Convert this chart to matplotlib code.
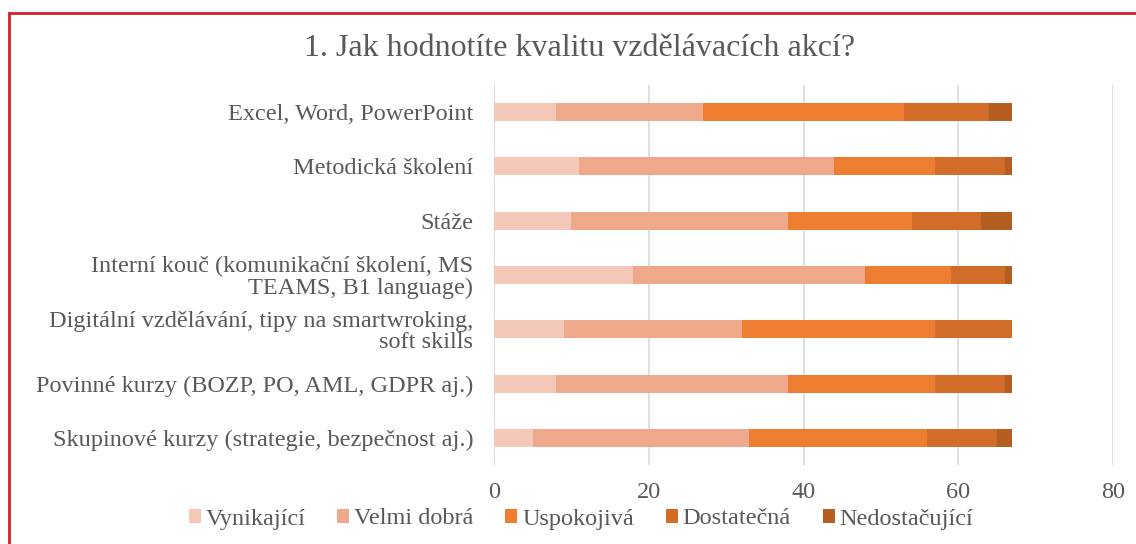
import matplotlib
matplotlib.use("Agg")
import matplotlib.pyplot as plt
from matplotlib.patches import Patch, Rectangle
import numpy as np

categories = [
    "Excel, Word, PowerPoint",
    "Metodická školení",
    "Stáže",
    "Interní kouč (komunikační školení, MS\nTEAMS, B1 language)",
    "Digitální vzdělávání, tipy na smartwroking,\nsoft skills",
    "Povinné kurzy (BOZP, PO, AML, GDPR aj.)",
    "Skupinové kurzy (strategie, bezpečnost aj.)",
]
series_names = ["Vynikající", "Velmi dobrá", "Uspokojivá", "Dostatečná", "Nedostačující"]
vynikajici = [8, 11, 10, 18, 9, 8, 5]
velmi_dobra = [19, 33, 28, 30, 23, 30, 28]
uspokojiva = [26, 13, 16, 11, 25, 19, 23]
dostatecna = [11, 9, 9, 7, 10, 9, 9]
nedostacujici = [3, 1, 4, 1, 0, 1, 2]
xticks = [0, 20, 40, 60, 80]

colors = ["#F4C8B9", "#F0A88B", "#ED7D31", "#D26D29", "#B45E22"]
series = [vynikajici, velmi_dobra, uspokojiva, dostatecna, nedostacujici]

plt.rcParams['font.family'] = ['Liberation Serif', 'DejaVu Serif']
text_color = "#595959"
fs = 17.5

fig = plt.figure(figsize=(11.36, 5.44), dpi=100)
ax = fig.add_axes([494/1136, 1-465/544, 619/1136, 380/544])

y = np.arange(len(categories))
left = np.zeros(len(categories))
handles = []
for name, vals, c in zip(series_names, series, colors):
    ax.barh(y, vals, left=left, height=0.33, color=c, label=name, zorder=3)
    left += np.array(vals)
    handles.append(Patch(facecolor=c, edgecolor='none', label=name))

ax.set_ylim(len(categories) - 0.5, -0.5)
ax.set_xlim(0, 80)
ax.set_xticks(xticks)
ax.set_xticklabels([str(t) for t in xticks])
ax.set_yticks(y)
ax.set_yticklabels(categories, linespacing=1.0)
ax.tick_params(axis='x', length=0, pad=12, labelsize=fs, colors=text_color)
ax.tick_params(axis='y', length=0, pad=15, labelsize=fs, colors=text_color)
for lbl in ax.get_yticklabels():
    lbl.set_horizontalalignment('right')
ax.grid(axis='x', color='#D9D9D9', linewidth=1.2, zorder=0)
for s in ax.spines.values():
    s.set_visible(False)
ax.axvline(0, color='#D9D9D9', linewidth=1.2, zorder=1)

fig.text(580/1136, 1-48/544, "1. Jak hodnotíte kvalitu vzdělávacích akcí?",
         ha='center', va='center', fontsize=23, color=text_color)

fig.legend(handles=handles, loc='center', bbox_to_anchor=(581/1136, 1-519/544),
           ncol=5, frameon=False, fontsize=fs, handlelength=0.5, handleheight=0.5,
           handletextpad=0.2, columnspacing=1.3, labelcolor=text_color,
           borderpad=0.0)

fig.patches.append(Rectangle((9/1136, -0.1), 1.2, 1-13/544+0.1, transform=fig.transFigure,
                             fill=False, edgecolor='#D0202A', linewidth=2))

fig.savefig("out.png", dpi=100)
